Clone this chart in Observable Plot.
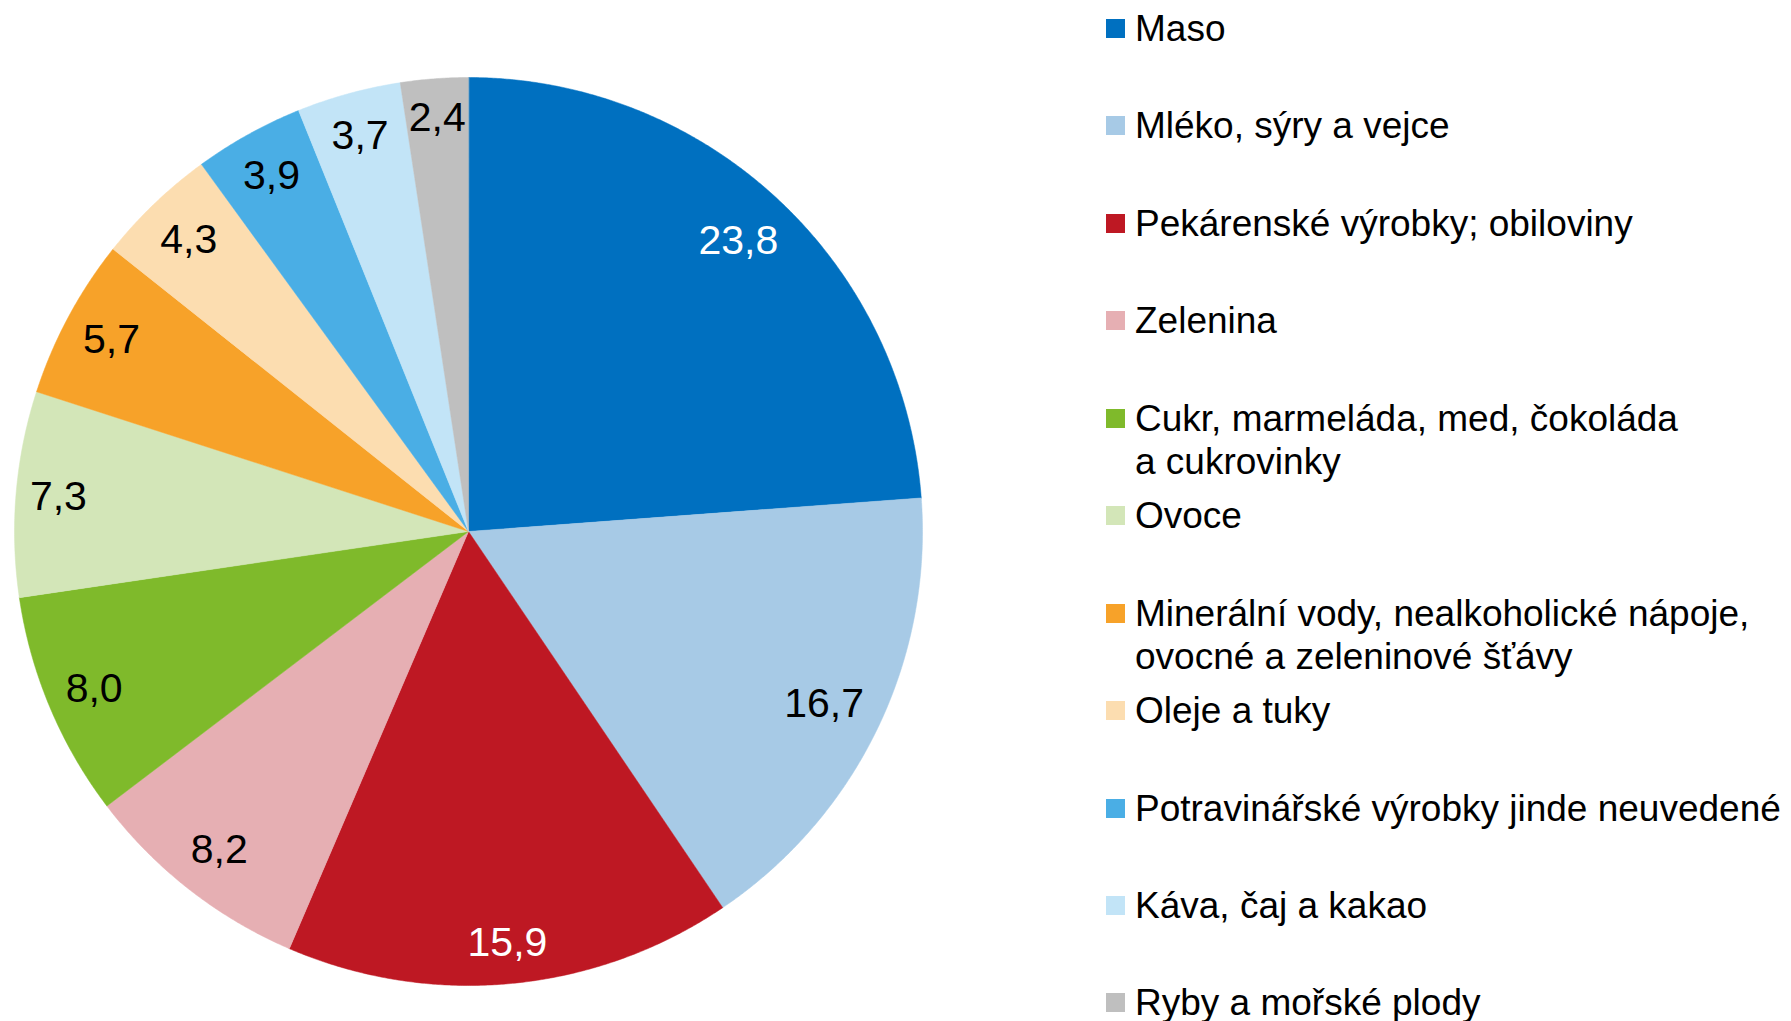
<!DOCTYPE html>
<html>
<head>
<meta charset="utf-8">
<script src="https://cdn.jsdelivr.net/npm/d3@7"></script>
<script src="https://cdn.jsdelivr.net/npm/@observablehq/plot@0.6"></script>
<style>
  html, body { margin: 0; padding: 0; background: #fff; overflow: hidden; }
  #wrap { display: flex; width: 1791px; height: 1021px; }
  #legend { position: relative; padding-top: 7px; font-family: "Liberation Sans", Arial, sans-serif; font-size: 37px; color: #000; }
  .item { height: 97.44px; display: flex; align-items: flex-start; white-space: pre; line-height: 43px; }
  .sw { width: 19px; height: 19px; margin: 12px 10px 0 11px; flex: none; }
</style>
</head>
<body>
<div id="wrap"><div id="chart"></div><div id="legend"></div></div>
<script>
const categories = [
  "Maso",
  "Mléko, sýry a vejce",
  "Pekárenské výrobky; obiloviny",
  "Zelenina",
  "Cukr, marmeláda, med, čokoláda\na cukrovinky",
  "Ovoce",
  "Minerální vody, nealkoholické nápoje,\novocné a zeleninové šťávy",
  "Oleje a tuky",
  "Potravinářské výrobky jinde neuvedené",
  "Káva, čaj a kakao",
  "Ryby a mořské plody"
];
const values = [23.8, 16.7, 15.9, 8.2, 8.0, 7.3, 5.7, 4.3, 3.9, 3.7, 2.4];
const colors = ["#0070C0", "#A7CAE6", "#BE1823", "#E6AFB3", "#7FBA2B", "#D3E6B8", "#F7A229", "#FCDDB0", "#4AAEE5", "#C2E4F7", "#BFBFBF"];
const labelColors = ["#fff", "#000", "#fff", "#000", "#000", "#000", "#000", "#000", "#000", "#000", "#000"];

const fmt = v => v.toFixed(1).replace(".", ",");
const R = 454, FS = 41;

const pie = d3.pie().sort(null).value(d => d.value)(values.map((v, i) => ({name: categories[i], value: v, i})));

// polygon points for each slice (unit circle, y up)
const slicePts = [];
for (const s of pie) {
  slicePts.push({i: s.data.i, x: 0, y: 0});
  const n = Math.max(2, Math.ceil((s.endAngle - s.startAngle) / 0.005));
  for (let k = 0; k <= n; k++) {
    const a = s.startAngle + (s.endAngle - s.startAngle) * k / n;
    slicePts.push({i: s.data.i, x: Math.sin(a), y: Math.cos(a)});
  }
}

// labels placed "inside end"
const labels = pie.map(s => {
  const a = (s.startAngle + s.endAngle) / 2;
  const txt = fmt(s.data.value);
  const w = [...txt].reduce((t, c) => t + (c === "," ? 0.278 : 0.556), 0) * FS;
  const support = Math.abs(Math.sin(a)) * w / 2 + Math.abs(Math.cos(a)) * 25 + 12;
  const d = (R - support) / R;
  return {x: Math.sin(a) * d, y: Math.cos(a) * d, text: txt, i: s.data.i};
});

const cx = 468, cy = 531;
const chart = Plot.plot({
  width: 1095,
  height: 1021,
  margin: 0,
  x: {domain: [-1, 1], range: [cx - R, cx + R], axis: null},
  y: {domain: [-1, 1], range: [cy + R, cy - R], axis: null},
  marks: [
    Plot.line(slicePts, {x: "x", y: "y", z: "i", fill: d => colors[d.i], stroke: d => colors[d.i], strokeWidth: 0.5, curve: "linear-closed"}),
    Plot.text(labels, {x: "x", y: "y", text: "text", fill: d => labelColors[d.i], fontSize: FS, fontFamily: "Liberation Sans, Arial, sans-serif"})
  ]
});
document.getElementById("chart").appendChild(chart);

const legend = document.getElementById("legend");
categories.forEach((c, i) => {
  const it = document.createElement("div");
  it.className = "item";
  const sw = document.createElement("span");
  sw.className = "sw";
  sw.style.background = colors[i];
  const t = document.createElement("span");
  t.textContent = c;
  it.appendChild(sw);
  it.appendChild(t);
  legend.appendChild(it);
});
</script>
</body>
</html>
